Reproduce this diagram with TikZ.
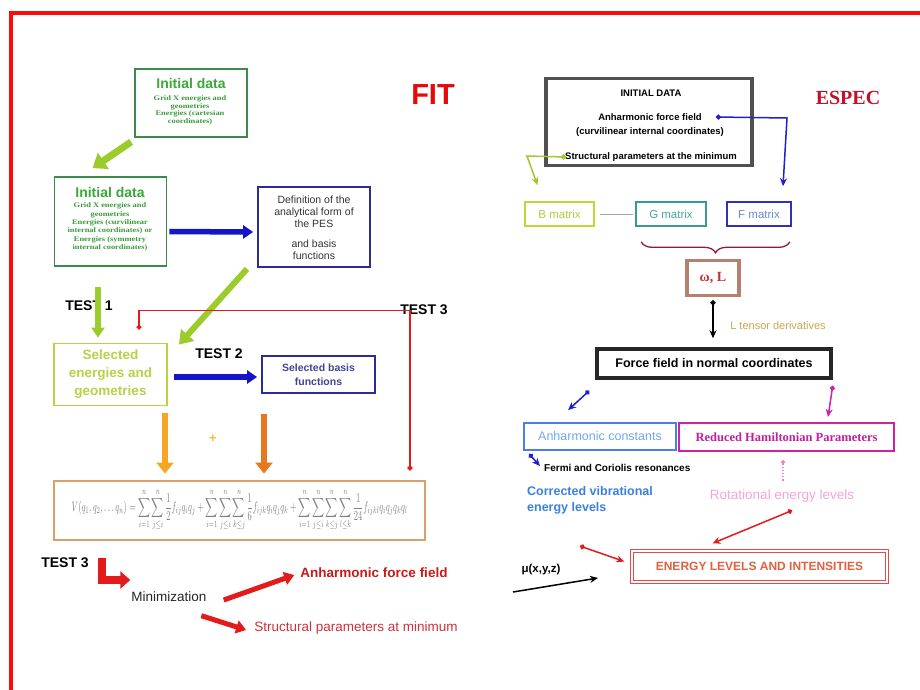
\documentclass[tikz,border=0pt]{standalone}
\usepackage{fontspec}
\usepackage{amsmath}
\usepackage{graphicx}
\setmainfont{Liberation Sans}
\newfontfamily\serifb{Liberation Serif}
\newfontfamily\serifw[FakeStretch=1.2]{Liberation Serif}
\usetikzlibrary{arrows.meta,decorations.pathreplacing}
\definecolor{frameRed}{HTML}{FF0A0A}
\definecolor{dkgreen}{HTML}{3B8B4B}
\definecolor{titlegreen}{HTML}{3AA83A}
\definecolor{subgreen}{HTML}{3A9A3A}
\definecolor{limeA}{HTML}{9CCB2C}
\definecolor{selgreen}{HTML}{B5D345}
\definecolor{navy}{HTML}{2B2B9C}
\definecolor{arrblue}{HTML}{1414C8}
\definecolor{orangeL}{HTML}{F5A623}
\definecolor{orangeR}{HTML}{E8771E}
\definecolor{formbox}{HTML}{D9A06E}
\definecolor{redA}{HTML}{E31B1B}
\definecolor{redT}{HTML}{D0303C}
\definecolor{darktxt}{HTML}{333333}
\definecolor{inigray}{HTML}{505050}
\definecolor{especred}{HTML}{C0102A}
\definecolor{bconn}{HTML}{2020D0}
\definecolor{bmatb}{HTML}{C2D63A}
\definecolor{bmatt}{HTML}{B0CC40}
\definecolor{gmatb}{HTML}{3A9A8C}
\definecolor{gmatt}{HTML}{48A898}
\definecolor{fmatb}{HTML}{3030C0}
\definecolor{fmatt}{HTML}{6A8AD8}
\definecolor{bracec}{HTML}{8B1C3C}
\definecolor{omb}{HTML}{B5806E}
\definecolor{omt}{HTML}{C03535}
\definecolor{ltens}{HTML}{C8A850}
\definecolor{anhb}{HTML}{4A7FE6}
\definecolor{anht}{HTML}{70A8F0}
\definecolor{rhpb}{HTML}{D020A8}
\definecolor{rhpt}{HTML}{C0209A}
\definecolor{corr}{HTML}{3A80E0}
\definecolor{rotc}{HTML}{F5A5D5}
\definecolor{pinkd}{HTML}{F080C0}
\definecolor{enb}{HTML}{E84848}
\definecolor{ent}{HTML}{E06040}
\newcommand{\idsubA}{\serifw\bfseries\fontsize{7}{7.6}\selectfont}
\newcommand{\idsubB}{\serifw\bfseries\fontsize{7}{8.4}\selectfont}
\tikzset{
  box/.style={draw, rectangle, inner sep=0pt},
  lbl/.style={inner sep=0pt, align=center},
  fat/.style={line width=#1, -{Triangle[length=11pt,width=17pt]}},
  fatsm/.style={line width=#1, -{Triangle[length=10pt,width=13pt]}},
  dotarrow/.style={line width=1.5pt, {Circle[length=5pt]}-{Stealth[length=8pt,width=7pt]}},
  testlbl/.style={lbl, font=\fontsize{14}{16}\selectfont\bfseries, text=black}
}
\begin{document}
\begin{tikzpicture}[x=1pt,y=-1pt]
\useasboundingbox (0,0) rectangle (920,689);
\fill[white] (0,0) rectangle (920,689);
\draw[frameRed, line width=4pt] (11,692) -- (11,13) -- (923,13);

% ---------------- FIT side ----------------
\node[lbl, text=frameRed!90!black, font=\fontsize{29}{32}\selectfont\bfseries] (fit) at (433,95) {FIT};

\node[box, draw=dkgreen, line width=1.8pt, minimum width=112pt, minimum height=68pt] (id1) at (191,103) {};
\node[lbl, text=titlegreen, font=\fontsize{14}{15}\selectfont\bfseries] (id1t) at (191,83) {Initial data};
\node[lbl, text=subgreen, font=\idsubA] (id1s) at (190,110.5) {Grid X energies and\\geometries\\Energies (cartesian\\coordinates)};

\node[box, draw=dkgreen, line width=1.8pt, minimum width=112pt, minimum height=89pt] (id2) at (110.5,221.5) {};
\node[lbl, text=titlegreen, font=\fontsize{14}{15}\selectfont\bfseries] (id2t) at (110,192) {Initial data};
\node[lbl, text=subgreen, font=\idsubB] (id2s) at (110,227) {Grid X energies and\\geometries\\Energies (curvilinear\\internal coordinates) or\\Energies (symmetry\\internal coordinates)};

\node[box, draw=navy, line width=1.8pt, minimum width=112pt, minimum height=80pt] (def) at (314,227) {};
\node[lbl, text=darktxt, font=\fontsize{10.5}{12.3}\selectfont] (deft) at (314,227.5) {Definition of the\\analytical form of\\the PES\\[7pt]and basis\\functions};

\node[box, draw=selgreen, line width=1.8pt, minimum width=113pt, minimum height=62pt, text=selgreen, align=center, font=\fontsize{13.5}{18}\selectfont\bfseries] (sel) at (110.5,374.5) {Selected\\energies and\\geometries};

\node[box, draw=navy, line width=1.8pt, minimum width=113pt, minimum height=37pt, text=navy!70!gray, align=center, font=\fontsize{10.5}{14}\selectfont\bfseries] (sbf) at (318.5,374.5) {Selected basis\\functions};

\node[box, draw=formbox, line width=2pt, minimum width=371pt, minimum height=59pt, text=gray] (form) at (239.5,510)
  {\resizebox*{336pt}{42pt}{$\displaystyle V(q_1,q_2,\ldots q_n)=\sum_{i=1}^{n}\sum_{j\le i}^{n}\frac{1}{2}f_{ij}q_iq_j+\sum_{i=1}^{n}\sum_{j\le i}^{n}\sum_{k\le j}^{n}\frac{1}{6}f_{ijk}q_iq_jq_k+\sum_{i=1}^{n}\sum_{j\le i}^{n}\sum_{k\le j}^{n}\sum_{l\le k}^{n}\frac{1}{24}f_{ijkl}q_iq_jq_kq_l$}};

\node[testlbl] (t1) at (89,306) {TEST 1};
\node[testlbl] (t2) at (219,354) {TEST 2};
\node[testlbl] (t3a) at (424,310) {TEST 3};
\node[testlbl] (t3b) at (65,563) {TEST 3};
\node[lbl, text=orangeL!80!white, font=\fontsize{13}{15}\selectfont\bfseries] (plus) at (213,439) {+};

\node[lbl, font=\fontsize{13.5}{16}\selectfont, text=black!85] (mini) at (169,597) {Minimization};
\node[lbl, font=\fontsize{13.5}{16}\selectfont\bfseries, text=redA!90!black] (aff1) at (374,573) {Anharmonic force field};
\node[lbl, font=\fontsize{13.5}{16}\selectfont, text=redT] (spm1) at (356,628) {Structural parameters at minimum};

% FIT arrows
\draw[fat=7pt, draw=limeA, -{Triangle[length=13pt,width=19pt]}] ([xshift=-3pt,yshift=-4pt]id1.south west) -- ([xshift=39pt,yshift=8pt]id2.north west);
\draw[fat=6pt, draw=limeA, -{Triangle[length=13pt,width=17pt]}] ([xshift=-67pt,yshift=-1pt]def.south) -- ([xshift=11pt,yshift=-2pt]sel.north east);
\draw[fatsm=6pt, draw=limeA] (98,287) -- ([xshift=-12.5pt,yshift=5pt]sel.north);
\draw[fatsm=5.5pt, draw=arrblue] ([xshift=2pt,yshift=-10pt]id2.east) -- ([xshift=-4pt,yshift=-5pt]def.west);
\draw[fatsm=5.5pt, draw=arrblue] ([xshift=6pt,yshift=-2.5pt]sel.east) -- ([xshift=-4pt,yshift=-2.5pt]sbf.west);
\draw[fat=6pt, draw=orangeL] ([xshift=54.5pt,yshift=-7pt]sel.south) -- ([xshift=-74.5pt,yshift=6pt]form.north);
\draw[fat=6pt, draw=orangeR] ([xshift=-54.5pt,yshift=-20pt]sbf.south) -- ([xshift=24.5pt,yshift=6pt]form.north);
\draw[line width=1.6pt, draw=redA, {Circle[length=5pt]}-{Circle[length=5pt]}] ([xshift=28.5pt,yshift=13pt]sel.north) -- ++(0,-19) -- ++(271,0) -- ([xshift=170.5pt,yshift=9pt]form.north);
\draw[line width=8pt, draw=redA, -{Triangle[length=10pt,width=17pt]}] (102,558) -- (102,580) -- ([xshift=-1pt,yshift=17pt]mini.west);
\draw[fatsm=5pt, draw=redA] ([xshift=17pt,yshift=-3pt]mini.east) -- ([xshift=-6pt,yshift=-2pt]aff1.west);
\draw[fatsm=5pt, draw=redA] ([xshift=70pt,yshift=-13.5pt]mini.south west) -- ([xshift=-8pt,yshift=-2pt]spm1.west);

% ---------------- ESPEC side ----------------
\node[lbl, text=especred, font=\serifb\bfseries\fontsize{20}{22}\selectfont] (espec) at (848,98) {ESPEC};
\node[box, draw=inigray, line width=3.5pt, minimum width=206pt, minimum height=87pt] (ini) at (649,122) {};
\node[lbl, font=\fontsize{9.5}{11}\selectfont\bfseries] (init) at (651,93) {INITIAL DATA};
\node[lbl, font=\fontsize{9.5}{11}\selectfont\bfseries] (aff) at (650,117) {Anharmonic force field};
\node[lbl, font=\fontsize{9.5}{11}\selectfont\bfseries] (curv) at (650,132) {(curvilinear internal coordinates)};
\node[lbl, font=\fontsize{9.5}{11}\selectfont\bfseries] (spm) at (651,157) {Structural parameters at the minimum};

\node[box, draw=bmatb, line width=1.6pt, minimum width=69pt, minimum height=24pt, text=bmatt, font=\fontsize{11.5}{13}\selectfont] (bmat) at (559.5,214) {B matrix};
\node[box, draw=gmatb, line width=1.6pt, minimum width=70pt, minimum height=24pt, text=gmatt, font=\fontsize{11.5}{13}\selectfont] (gmat) at (671,214) {G matrix};
\node[box, draw=fmatb, line width=1.6pt, minimum width=64pt, minimum height=24pt, text=fmatt, font=\fontsize{11.5}{13}\selectfont] (fmat) at (759,214) {F matrix};
\draw[gray!70, line width=0.8pt] ([xshift=5pt]bmat.east) -- ([xshift=-2pt]gmat.west);
\draw[bracec, line width=1.3pt, decorate, decoration={brace, mirror, amplitude=11pt}] ([xshift=6pt,yshift=-15pt]gmat.south west) -- ([xshift=-2pt,yshift=-15pt]fmat.south east);

\draw[line width=1.5pt, draw=bconn, {Circle[length=5pt]}-{Stealth[length=8pt,width=7pt]}] ([xshift=14pt]aff.east) -- (787,118) -- ([xshift=24pt,yshift=15pt]fmat.north);
\draw[line width=1.5pt, draw=limeA, {Circle[length=5pt]}-{Stealth[length=8pt,width=7pt]}] ([xshift=1pt]spm.west) -- (527,156) -- ([xshift=-22pt,yshift=16pt]bmat.north);

\node[box, draw=omb, line width=3.5pt, minimum width=52pt, minimum height=35pt, text=omt, font=\serifb\bfseries\fontsize{14}{16}\selectfont] (omL) at (713,278) {ω, L};
\node[lbl, text=ltens, font=\fontsize{11}{13}\selectfont] (ltd) at (778,326) {L tensor derivatives};
\node[box, draw=black!85, line width=3.5pt, minimum width=234pt, minimum height=29pt, font=\fontsize{12.5}{14}\selectfont\bfseries] (ff) at (714,363.5) {Force field in normal coordinates};
\draw[dotarrow, draw=black] ([yshift=-3pt]omL.south) -- ([xshift=-1pt,yshift=9pt]ff.north);

\node[box, draw=anhb, line width=1.8pt, minimum width=152pt, minimum height=27pt, text=anht, font=\fontsize{12.5}{14}\selectfont] (anh) at (600,436.5) {Anharmonic constants};
\node[box, draw=rhpb, line width=2pt, minimum width=215pt, minimum height=28pt, text=rhpt, font=\serifb\bfseries\fontsize{12.5}{14}\selectfont] (rhp) at (786.5,437) {Reduced Hamiltonian Parameters};
\draw[dotarrow, draw=bconn] ([xshift=-6pt,yshift=-11pt]ff.south west) -- ([xshift=45pt,yshift=12pt]anh.north west);
\draw[dotarrow, draw=rhpb] ([yshift=-6pt]ff.south east) -- ([xshift=-67pt,yshift=5pt]rhp.north east);

\node[lbl, anchor=west, font=\fontsize{10}{12}\selectfont\bfseries] (fermi) at (544,468) {Fermi and Coriolis resonances};
\draw[dotarrow, draw=bconn] ([xshift=6pt,yshift=-3pt]anh.south west) -- ([xshift=-4pt,yshift=2pt]fermi.west);
\node[lbl, anchor=west, align=left, text=corr, font=\fontsize{12.5}{16}\selectfont\bfseries] (corrv) at (527,500) {Corrected vibrational\\energy levels};
\node[lbl, text=rotc, font=\fontsize{13.5}{16}\selectfont] (rot) at (782,496) {Rotational energy levels};
\draw[line width=1.2pt, draw=pinkd, dotted, {Circle[length=4pt]}-] ([xshift=-3.5pt,yshift=-8pt]rhp.south) -- ([xshift=1pt,yshift=7pt]rot.north);

\node[box, draw=enb, line width=1.3pt, double=white, double distance=1.4pt, minimum width=255pt, minimum height=31pt, text=ent, font=\fontsize{12}{14}\selectfont\bfseries] (elv) at (759.5,566.5) {ENERGY LEVELS AND INTENSITIES};
\draw[dotarrow, draw=redA] ([xshift=10pt,yshift=-8pt]rot.south) -- ([xshift=-47pt,yshift=7pt]elv.north);
\draw[dotarrow, draw=redA] ([xshift=53pt,yshift=-32pt]corrv.south west) -- ([xshift=-7pt,yshift=5pt]elv.west);
\node[lbl, font=\fontsize{11.5}{13}\selectfont\bfseries] (mu) at (541,570) {μ(x,y,z)};
\draw[line width=1.5pt, -{Stealth[length=8pt,width=7pt]}] ([xshift=-28pt,yshift=-22pt]mu.center) -- ([xshift=57pt,yshift=-8pt]mu.center);
\end{tikzpicture}
\end{document}
